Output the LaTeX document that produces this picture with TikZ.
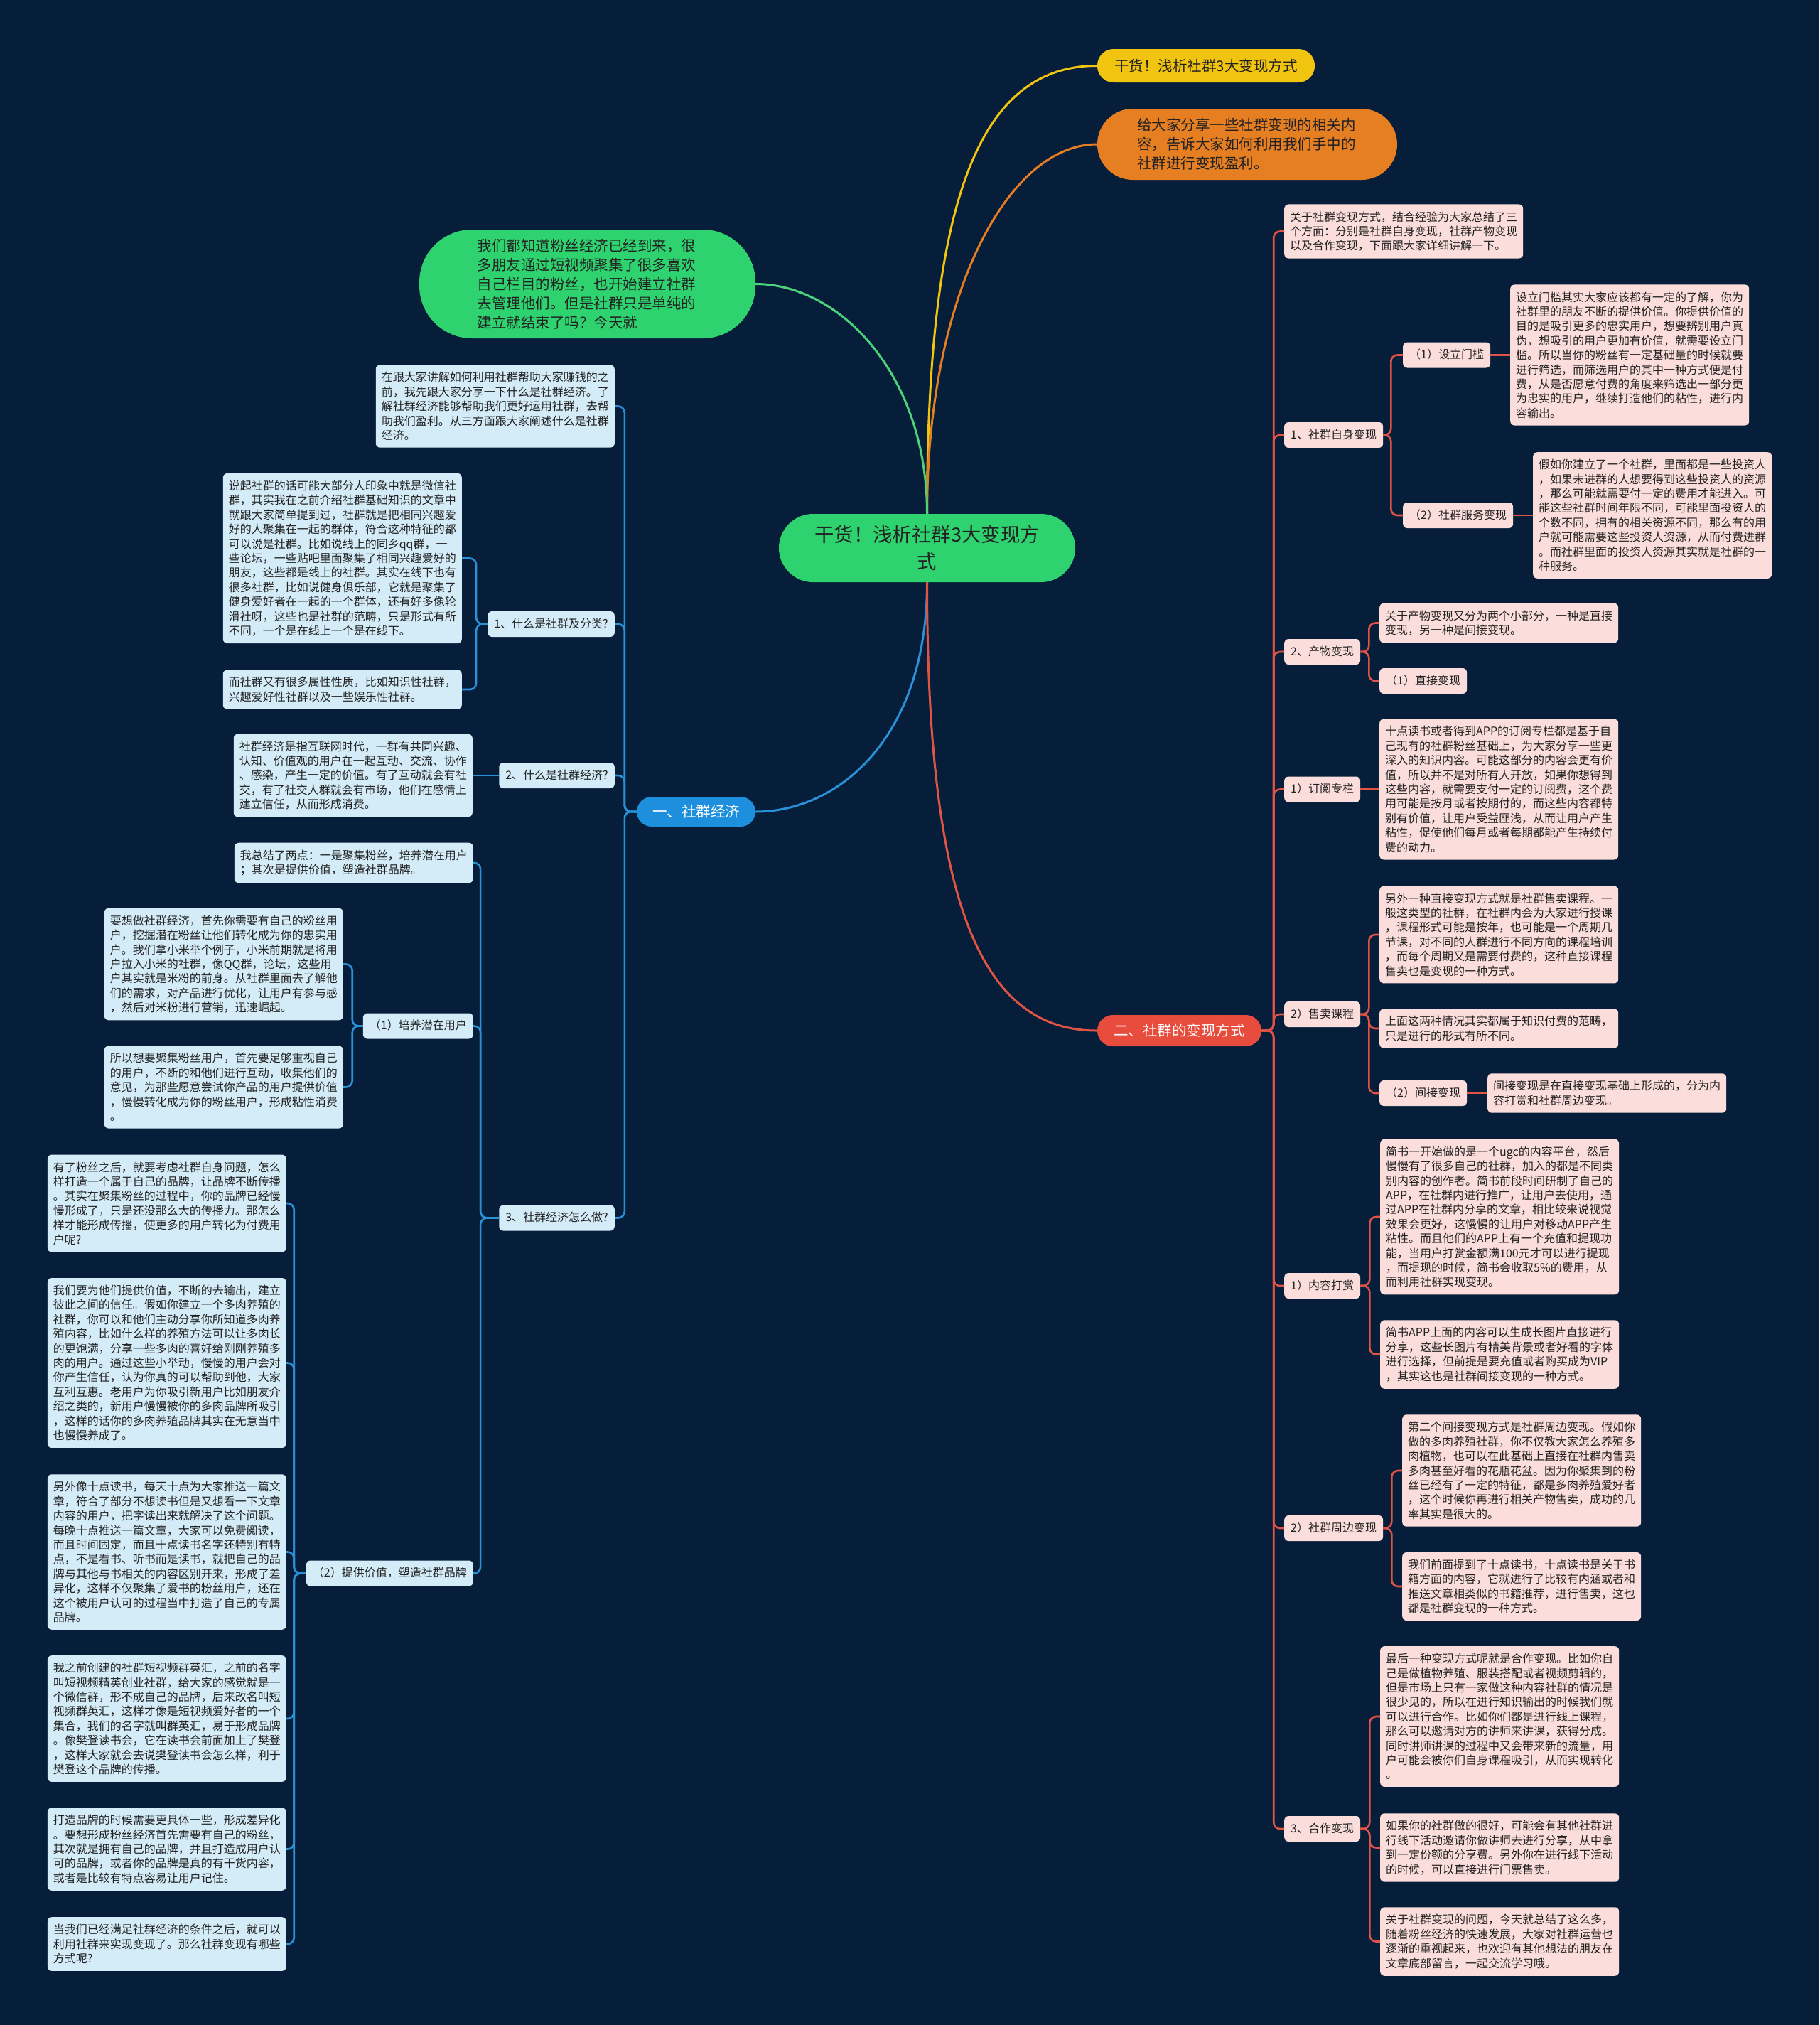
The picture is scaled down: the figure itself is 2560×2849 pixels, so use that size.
\documentclass[tikz,border=0pt]{standalone}
\usepackage{fontspec}
\setmainfont{Noto Sans CJK SC}
\definecolor{bgc}{HTML}{061E3A}
\definecolor{lboxc}{HTML}{D4ECF8}
\definecolor{rboxc}{HTML}{FBDEDB}
\definecolor{bluec}{HTML}{2A90D8}
\definecolor{bluefill}{HTML}{1E8FDC}
\definecolor{redc}{HTML}{E05345}
\definecolor{redfill}{HTML}{E74C3C}
\definecolor{yelc}{HTML}{F1C40F}
\definecolor{orac}{HTML}{E67E22}
\definecolor{grnc}{HTML}{2ED36F}
\definecolor{grnline}{HTML}{4CD37A}
\definecolor{txtc}{HTML}{222222}
\newcommand\fsBox{\fontsize{16pt}{20.4pt}\selectfont}
\newcommand\fsMid{\fontsize{20.5pt}{27pt}\selectfont}
\newcommand\fsRoot{\fontsize{27.4pt}{38pt}\selectfont}
\tikzset{
  boxbase/.style={rounded corners=6pt, text=txtc, font=\fsBox, align=left, text width=320pt, inner xsep=8pt, inner ysep=10pt},
  lbox/.style={boxbase, fill=lboxc, anchor=east},
  rbox/.style={boxbase, fill=rboxc, anchor=west},
  labbase/.style={rounded corners=6pt, text=txtc, font=\fsBox, inner xsep=9pt, inner ysep=10pt, text height=13pt, text depth=3pt},
  llab/.style={labbase, fill=lboxc, anchor=east},
  rlab/.style={labbase, fill=rboxc, anchor=west},
  bl/.style={draw=bluec, line width=2.6pt, rounded corners=9pt},
  rl/.style={draw=redc, line width=2.6pt, rounded corners=9pt},
  mainline/.style={line width=3pt},
}
\begin{document}
\begin{tikzpicture}[x=1pt,y=-1pt]
\fill[bgc] (0,0) rectangle (2560,2849);
\useasboundingbox (0,0) rectangle (2560,2849);

% top level
\node[fill=grnc, rounded corners=48pt, text=txtc, font=\fsRoot, align=center, minimum width=417pt, minimum height=96pt, inner xsep=20pt] (root) at (1304.5,771) {干货！浅析社群3大变现方\\式};
\node[fill=yelc, rounded corners=23pt, text=txtc, font=\fsMid, minimum width=306pt, minimum height=47pt, inner xsep=20pt] (yel) at (1697,92.5) {干货！浅析社群3大变现方式};
\node[fill=orac, rounded corners=50pt, text=txtc, font=\fsMid, align=left, text width=310pt, inner xsep=56pt, minimum height=100pt] (ora) at (1755,203) {给大家分享一些社群变现的相关内\\容，告诉大家如何利用我们手中的\\社群进行变现盈利。};
\node[fill=grnc, rounded corners=74pt, text=txtc, font=\fsMid, align=left, text width=310pt, inner xsep=81.5pt, minimum height=153pt] (grn) at (826.5,399.5) {我们都知道粉丝经济已经到来，很\\多朋友通过短视频聚集了很多喜欢\\自己栏目的粉丝，也开始建立社群\\去管理他们。但是社群只是单纯的\\建立就结束了吗？今天就};
\node[fill=bluefill, rounded corners=21pt, text=white, font=\fsMid, minimum width=167pt, minimum height=42pt, inner xsep=20pt] (yi) at (979.5,1142) {一、社群经济};
\node[fill=redfill, rounded corners=22pt, text=white, font=\fsMid, minimum width=231pt, minimum height=44pt, inner xsep=20pt] (er) at (1659.5,1450) {二、社群的变现方式};

\draw[mainline, yelc] (root.north) .. controls +(0,-450) and +(-163,0) .. (yel.west);
\draw[mainline, orac] (root.north) .. controls +(0,-305) and +(-127,0) .. (ora.west);
\draw[mainline, grnline] (root.north) .. controls +(0,-196) and +(118,0) .. (grn.east);
\draw[mainline, bluec] (root.south) .. controls +(0,217) and +(118,0) .. (yi.east);
\draw[mainline, redc] (root.south) .. controls +(0,453) and +(-163,0) .. (er.west);

% ---------------- left branch ----------------
\node[lbox] (bA) at (865,571.5) {在跟大家讲解如何利用社群帮助大家赚钱的之\\前，我先跟大家分享一下什么是社群经济。了\\解社群经济能够帮助我们更好运用社群，去帮\\助我们盈利。从三方面跟大家阐述什么是社群\\经济。};
\node[llab] (L1) at (865,878) {1、什么是社群及分类?};
\node[lbox] (bB) at (650,785.5) {说起社群的话可能大部分人印象中就是微信社\\群，其实我在之前介绍社群基础知识的文章中\\就跟大家简单提到过，社群就是把相同兴趣爱\\好的人聚集在一起的群体，符合这种特征的都\\可以说是社群。比如说线上的同乡qq群，一\\些论坛，一些贴吧里面聚集了相同兴趣爱好的\\朋友，这些都是线上的社群。其实在线下也有\\很多社群，比如说健身俱乐部，它就是聚集了\\健身爱好者在一起的一个群体，还有好多像轮\\滑社呀，这些也是社群的范畴，只是形式有所\\不同，一个是在线上一个是在线下。};
\node[lbox] (bC) at (650,970) {而社群又有很多属性性质，比如知识性社群，\\兴趣爱好性社群以及一些娱乐性社群。};
\node[llab] (L2) at (865,1091) {2、什么是社群经济?};
\node[lbox] (bD) at (665,1091) {社群经济是指互联网时代，一群有共同兴趣、\\认知、价值观的用户在一起互动、交流、协作\\、感染，产生一定的价值。有了互动就会有社\\交，有了社交人群就会有市场，他们在感情上\\建立信任，从而形成消费。};
\node[llab] (L3) at (865,1713.5) {3、社群经济怎么做?};
\node[lbox] (bE) at (666,1214) {我总结了两点：一是聚集粉丝，培养潜在用户\\；其次是提供价值，塑造社群品牌。};
\node[llab] (L31) at (666,1443.5) {（1）培养潜在用户};
\node[lbox] (bF) at (483,1356.5) {要想做社群经济，首先你需要有自己的粉丝用\\户，挖掘潜在粉丝让他们转化成为你的忠实用\\户。我们拿小米举个例子，小米前期就是将用\\户拉入小米的社群，像QQ群，论坛，这些用\\户其实就是米粉的前身。从社群里面去了解他\\们的需求，对产品进行优化，让用户有参与感\\，然后对米粉进行营销，迅速崛起。};
\node[lbox] (bG) at (483,1529.5) {所以想要聚集粉丝用户，首先要足够重视自己\\的用户，不断的和他们进行互动，收集他们的\\意见，为那些愿意尝试你产品的用户提供价值\\，慢慢转化成为你的粉丝用户，形成粘性消费\\。};
\node[llab] (L32) at (666,2213.5) {（2）提供价值，塑造社群品牌};
\node[lbox] (bH) at (403,1693) {有了粉丝之后，就要考虑社群自身问题，怎么\\样打造一个属于自己的品牌，让品牌不断传播\\。其实在聚集粉丝的过程中，你的品牌已经慢\\慢形成了，只是还没那么大的传播力。那怎么\\样才能形成传播，使更多的用户转化为付费用\\户呢?};
\node[lbox] (bI) at (403,1917.5) {我们要为他们提供价值，不断的去输出，建立\\彼此之间的信任。假如你建立一个多肉养殖的\\社群，你可以和他们主动分享你所知道多肉养\\殖内容，比如什么样的养殖方法可以让多肉长\\的更饱满，分享一些多肉的喜好给刚刚养殖多\\肉的用户。通过这些小举动，慢慢的用户会对\\你产生信任，认为你真的可以帮助到他，大家\\互利互惠。老用户为你吸引新用户比如朋友介\\绍之类的，新用户慢慢被你的多肉品牌所吸引\\，这样的话你的多肉养殖品牌其实在无意当中\\也慢慢养成了。};
\node[lbox] (bJ) at (403,2183.5) {另外像十点读书，每天十点为大家推送一篇文\\章，符合了部分不想读书但是又想看一下文章\\内容的用户，把字读出来就解决了这个问题。\\每晚十点推送一篇文章，大家可以免费阅读，\\而且时间固定，而且十点读书名字还特别有特\\点，不是看书、听书而是读书，就把自己的品\\牌与其他与书相关的内容区别开来，形成了差\\异化，这样不仅聚集了爱书的粉丝用户，还在\\这个被用户认可的过程当中打造了自己的专属\\品牌。};
\node[lbox] (bK) at (403,2418) {我之前创建的社群短视频群英汇，之前的名字\\叫短视频精英创业社群，给大家的感觉就是一\\个微信群，形不成自己的品牌，后来改名叫短\\视频群英汇，这样才像是短视频爱好者的一个\\集合，我们的名字就叫群英汇，易于形成品牌\\。像樊登读书会，它在读书会前面加上了樊登\\，这样大家就会去说樊登读书会怎么样，利于\\樊登这个品牌的传播。};
\node[lbox] (bL) at (403,2601.5) {打造品牌的时候需要更具体一些，形成差异化\\。要想形成粉丝经济首先需要有自己的粉丝，\\其次就是拥有自己的品牌，并且打造成用户认\\可的品牌，或者你的品牌是真的有干货内容，\\或者是比较有特点容易让用户记住。};
\node[lbox] (bM) at (403,2735) {当我们已经满足社群经济的条件之后，就可以\\利用社群来实现变现了。那么社群变现有哪些\\方式呢?};

\foreach \c in {bA,L1,L2,L3} \draw[bl] (yi.west) -- ++(-17,0) |- (\c.east);
\foreach \c in {bB,bC} \draw[bl] (L1.west) -- ++(-16,0) |- (\c.east);
\draw[bl] (L2.west) -- (bD.east);
\foreach \c in {bE,L31,L32} \draw[bl] (L3.west) -- ++(-26,0) |- (\c.east);
\foreach \c in {bF,bG} \draw[bl] (L31.west) -- ++(-15,0) |- (\c.east);
\foreach \c in {bH,bI,bJ,bK,bL,bM} \draw[bl] (L32.west) -- ++(-17,0) |- (\c.east);

% ---------------- right branch ----------------
\node[rbox] (rN) at (1807,325.5) {关于社群变现方式，结合经验为大家总结了三\\个方面：分别是社群自身变现，社群产物变现\\以及合作变现，下面跟大家详细讲解一下。};
\node[rlab] (R1) at (1807,612) {1、社群自身变现};
\node[rlab] (R11) at (1974,499.5) {（1）设立门槛};
\node[rbox] (rO) at (2125,499.5) {设立门槛其实大家应该都有一定的了解，你为\\社群里的朋友不断的提供价值。你提供价值的\\目的是吸引更多的忠实用户，想要辨别用户真\\伪，想吸引的用户更加有价值，就需要设立门\\槛。所以当你的粉丝有一定基础量的时候就要\\进行筛选，而筛选用户的其中一种方式便是付\\费，从是否愿意付费的角度来筛选出一部分更\\为忠实的用户，继续打造他们的粘性，进行内\\容输出。};
\node[rlab] (R12) at (1974,725) {（2）社群服务变现};
\node[rbox] (rP) at (2157,725) {假如你建立了一个社群，里面都是一些投资人\\，如果未进群的人想要得到这些投资人的资源\\，那么可能就需要付一定的费用才能进入。可\\能这些社群时间年限不同，可能里面投资人的\\个数不同，拥有的相关资源不同，那么有的用\\户就可能需要这些投资人资源，从而付费进群\\。而社群里面的投资人资源其实就是社群的一\\种服务。};
\node[rlab] (R2) at (1807,917) {2、产物变现};
\node[rbox] (rQ) at (1941,876.5) {关于产物变现又分为两个小部分，一种是直接\\变现，另一种是间接变现。};
\node[rlab] (R21) at (1941,958) {（1）直接变现};
\node[rlab] (R3) at (1807,1110.5) {1）订阅专栏};
\node[rbox] (rR) at (1941,1110.5) {十点读书或者得到APP的订阅专栏都是基于自\\己现有的社群粉丝基础上，为大家分享一些更\\深入的知识内容。可能这部分的内容会更有价\\值，所以并不是对所有人开放，如果你想得到\\这些内容，就需要支付一定的订阅费，这个费\\用可能是按月或者按期付的，而这些内容都特\\别有价值，让用户受益匪浅，从而让用户产生\\粘性，促使他们每月或者每期都能产生持续付\\费的动力。};
\node[rlab] (R4) at (1807,1427) {2）售卖课程};
\node[rbox] (rS) at (1941,1315) {另外一种直接变现方式就是社群售卖课程。一\\般这类型的社群，在社群内会为大家进行授课\\，课程形式可能是按年，也可能是一个周期几\\节课，对不同的人群进行不同方向的课程培训\\，而每个周期又是需要付费的，这种直接课程\\售卖也是变现的一种方式。};
\node[rbox] (rT) at (1941,1447) {上面这两种情况其实都属于知识付费的范畴，\\只是进行的形式有所不同。};
\node[rlab] (R41) at (1941,1538) {（2）间接变现};
\node[rbox] (rU) at (2093,1538) {间接变现是在直接变现基础上形成的，分为内\\容打赏和社群周边变现。};
\node[rlab] (R5) at (1807,1809) {1）内容打赏};
\node[rbox] (rV) at (1942,1712) {简书一开始做的是一个ugc的内容平台，然后\\慢慢有了很多自己的社群，加入的都是不同类\\别内容的创作者。简书前段时间研制了自己的\\APP，在社群内进行推广，让用户去使用，通\\过APP在社群内分享的文章，相比较来说视觉\\效果会更好，这慢慢的让用户对移动APP产生\\粘性。而且他们的APP上有一个充值和提现功\\能，当用户打赏金额满100元才可以进行提现\\，而提现的时候，简书会收取5\%的费用，从\\而利用社群实现变现。};
\node[rbox] (rW) at (1942,1905.5) {简书APP上面的内容可以生成长图片直接进行\\分享，这些长图片有精美背景或者好看的字体\\进行选择，但前提是要充值或者购买成为VIP\\，其实这也是社群间接变现的一种方式。};
\node[rlab] (R6) at (1807,2150) {2）社群周边变现};
\node[rbox] (rX) at (1973,2069) {第二个间接变现方式是社群周边变现。假如你\\做的多肉养殖社群，你不仅教大家怎么养殖多\\肉植物，也可以在此基础上直接在社群内售卖\\多肉甚至好看的花瓶花盆。因为你聚集到的粉\\丝已经有了一定的特征，都是多肉养殖爱好者\\，这个时候你再进行相关产物售卖，成功的几\\率其实是很大的。};
\node[rbox] (rY) at (1973,2232) {我们前面提到了十点读书，十点读书是关于书\\籍方面的内容，它就进行了比较有内涵或者和\\推送文章相类似的书籍推荐，进行售卖，这也\\都是社群变现的一种方式。};
\node[rlab] (R7) at (1807,2573) {3、合作变现};
\node[rbox] (rZ) at (1942,2415) {最后一种变现方式呢就是合作变现。比如你自\\己是做植物养殖、服装搭配或者视频剪辑的，\\但是市场上只有一家做这种内容社群的情况是\\很少见的，所以在进行知识输出的时候我们就\\可以进行合作。比如你们都是进行线上课程，\\那么可以邀请对方的讲师来讲课，获得分成。\\同时讲师讲课的过程中又会带来新的流量，用\\户可能会被你们自身课程吸引，从而实现转化\\。};
\node[rbox] (rAA) at (1942,2599.5) {如果你的社群做的很好，可能会有其他社群进\\行线下活动邀请你做讲师去进行分享，从中拿\\到一定份额的分享费。另外你在进行线下活动\\的时候，可以直接进行门票售卖。};
\node[rbox] (rAB) at (1942,2731.5) {关于社群变现的问题，今天就总结了这么多，\\随着粉丝经济的快速发展，大家对社群运营也\\逐渐的重视起来，也欢迎有其他想法的朋友在\\文章底部留言，一起交流学习哦。};

\foreach \c in {rN,R1,R2,R3,R4,R5,R6,R7} \draw[rl] (er.east) -- ++(17,0) |- (\c.west);
\foreach \c in {R11,R12} \draw[rl] (R1.east) -- ++(11,0) |- (\c.west);
\draw[rl] (R11.east) -- (rO.west);
\draw[rl] (R12.east) -- (rP.west);
\foreach \c in {rQ,R21} \draw[rl] (R2.east) -- ++(12,0) |- (\c.west);
\draw[rl] (R3.east) -- (rR.west);
\foreach \c in {rS,rT,R41} \draw[rl] (R4.east) -- ++(12,0) |- (\c.west);
\draw[rl] (R41.east) -- (rU.west);
\foreach \c in {rV,rW} \draw[rl] (R5.east) -- ++(13,0) |- (\c.west);
\foreach \c in {rX,rY} \draw[rl] (R6.east) -- ++(12,0) |- (\c.west);
\foreach \c in {rZ,rAA,rAB} \draw[rl] (R7.east) -- ++(13,0) |- (\c.west);
\end{tikzpicture}
\end{document}
